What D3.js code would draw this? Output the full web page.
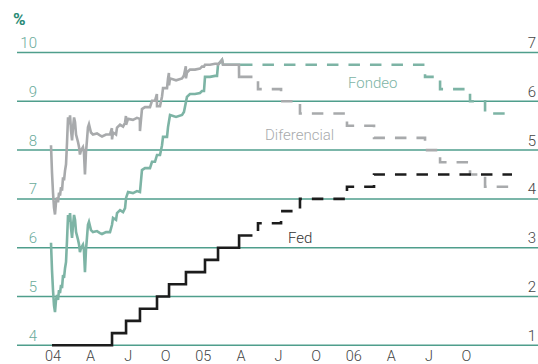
<!DOCTYPE html>
<html><head><meta charset="utf-8">
<script src="https://cdn.jsdelivr.net/npm/d3@7/dist/d3.min.js"></script>
<style>body{margin:0;background:#fff}svg{display:block}</style>
</head><body>
<svg id="chart" width="538" height="364"></svg>
<script>
// time axis: months since January 2004
const xTickMonths = [0,3,6,9,12,15,18,21,24,27,30,33];
const xTickLabels = ["04","A","J","O","05","A","J","O","06","A","J","O"];
const leftTicks = [4,5,6,7,8,9,10];     // Fondeo, %
const rightTicks = [1,2,3,4,5,6,7];     // Fed & Diferencial, %

// Fondeo (left axis), observed
const fondeo = [
 [-0.16,6.10],[-0.08,5.54],[0,5.13],[0.08,4.82],[0.16,4.68],[0.24,4.93],[0.32,5.03],[0.40,4.93],
 [0.48,5.13],[0.56,5.07],[0.64,5.24],[0.72,5.17],[0.80,5.44],[0.88,5.38],[0.96,5.58],[1.04,5.71],
 [1.12,6.16],[1.20,6.67],[1.28,6.53],[1.36,6.71],[1.44,6.40],[1.52,6.20],[1.60,6.47],[1.68,6.67],
 [1.76,6.57],[1.84,6.32],[2.00,6.16],[2.08,6.06],[2.15,5.91],[2.23,5.99],[2.39,6.06],[2.47,5.95],
 [2.55,5.50],[2.63,5.95],[2.71,6.20],[2.79,6.47],[2.87,6.53],[3.03,6.36],[3.19,6.32],[3.51,6.34],
 [3.75,6.30],[3.91,6.28],[4.23,6.32],[4.55,6.32],[4.71,6.47],[4.79,6.61],[5.03,6.57],[5.11,6.71],
 [5.35,6.77],[5.59,6.73],[5.75,6.81],[5.83,7.02],[5.99,7.14],[6.38,7.12],[6.70,7.16],[6.94,7.14],
 [7.10,7.59],[7.34,7.63],[7.74,7.63],[7.90,7.76],[8.14,7.76],[8.30,7.90],[8.54,7.90],[8.70,8.10],
 [8.78,8.27],[9.10,8.27],[9.18,8.47],[9.34,8.72],[9.82,8.68],[10.30,8.72],[10.45,8.78],[10.69,9.09],
 [10.93,9.15],[11.33,9.15],[11.73,9.17],[11.89,9.21],[12.05,9.21],[12.13,9.50],[12.53,9.50],
 [12.93,9.52],[13.09,9.52],[13.17,9.75],[13.49,9.85],[13.57,9.75],[14.13,9.75],[15.00,9.75]
];
// Fondeo, expected (dashed)
const fondeoExp = [[15.0,9.75],[29.69,9.5],[30.89,9.25],[33.28,9.0],[34.48,8.75],[36.63,8.75]];

// Fed funds target (right axis)
const fed = [[-0.08,1.0],[4.71,1.25],[5.83,1.5],[6.94,1.75],[8.30,2.0],[9.26,2.25],[10.61,2.5],
 [12.13,2.75],[13.17,3.0],[14.85,3.25],[15.0,3.25]];
const fedExp = [[15.0,3.25],[16.36,3.5],[18.2,3.75],[19.71,4.0],[23.46,4.25],[25.62,4.5],[36.63,4.5]];

// Diferencial (right axis)
const diferencial = [
 [-0.16,5.10],[-0.08,4.54],[0,4.13],[0.08,3.82],[0.16,3.68],[0.24,3.93],[0.32,4.03],[0.40,3.93],
 [0.48,4.13],[0.56,4.07],[0.64,4.24],[0.72,4.17],[0.80,4.44],[0.88,4.38],[0.96,4.58],[1.04,4.71],
 [1.12,5.16],[1.20,5.67],[1.28,5.53],[1.36,5.71],[1.44,5.40],[1.52,5.20],[1.60,5.47],[1.68,5.67],
 [1.76,5.57],[1.84,5.32],[2.00,5.16],[2.08,5.06],[2.15,4.91],[2.23,4.99],[2.39,5.06],[2.47,4.95],
 [2.55,4.50],[2.63,4.95],[2.71,5.20],[2.79,5.47],[2.87,5.53],[3.03,5.36],[3.19,5.32],[3.51,5.34],
 [3.75,5.30],[3.91,5.28],[4.23,5.32],[4.55,5.32],[4.70,5.45],[4.71,5.22],[4.79,5.36],[5.03,5.32],
 [5.11,5.46],[5.35,5.52],[5.59,5.48],[5.75,5.56],[5.82,5.70],[5.83,5.52],[5.99,5.64],[6.38,5.62],
 [6.70,5.66],[6.93,5.64],[6.94,5.39],[7.10,5.84],[7.34,5.88],[7.74,5.88],[7.90,6.01],[8.14,6.01],
 [8.29,6.15],[8.30,5.90],[8.54,5.90],[8.70,6.10],[8.78,6.27],[9.10,6.27],[9.18,6.47],[9.25,6.58],
 [9.26,6.33],[9.34,6.47],[9.82,6.43],[10.30,6.47],[10.45,6.53],[10.60,6.72],[10.61,6.47],[10.69,6.59],
 [10.93,6.65],[11.33,6.65],[11.73,6.67],[11.89,6.71],[12.05,6.71],[12.13,6.75],[12.53,6.75],
 [12.93,6.77],[13.09,6.77],[13.17,6.75],[13.49,6.85],[13.57,6.75],[14.13,6.75],[14.84,6.75],
 [14.85,6.5],[15.0,6.5]
];
const diferencialExp = [[15.0,6.5],[16.36,6.25],[18.2,6.0],[19.71,5.75],[23.46,5.5],[25.62,5.25],
 [29.69,5.0],[30.89,4.75],[33.28,4.5],[34.48,4.25],[36.63,4.25]];

const seriesLabels = ["Fondeo","Diferencial","Fed"];

const svg = d3.select("#chart");
const x = d3.scaleLinear().domain([0,36]).range([53,504.1]);
const yL = d3.scaleLinear().domain([4,10]).range([345.3,52.5]);
const yR = d3.scaleLinear().domain([1,7]).range([345.3,52.5]);

const font = "Roboto, 'Liberation Sans', Arial, sans-serif";

// gridlines
svg.append("g").selectAll("line").data(leftTicks).join("line")
  .attr("x1",17).attr("x2",538)
  .attr("y1",d=>yL(d)).attr("y2",d=>yL(d))
  .attr("stroke","#4f9e8c").attr("stroke-width",1.5);

// left labels
svg.append("g").selectAll("text").data(leftTicks).join("text")
  .attr("x",37).attr("y",d=>yL(d)-4.5).attr("text-anchor","end")
  .attr("font-family",font).attr("font-weight",300).attr("font-size",15)
  .attr("fill","#6aab9b").text(d=>d);

// right labels
svg.append("g").selectAll("text").data(rightTicks).join("text")
  .attr("x",536).attr("y",d=>yR(d)-4.5).attr("text-anchor","end")
  .attr("font-family",font).attr("font-weight",300).attr("font-size",15)
  .attr("fill","#444").text(d=>d);

// x labels
svg.append("g").selectAll("text").data(xTickMonths).join("text")
  .attr("x",d=>x(d)).attr("y",360.5).attr("text-anchor","middle")
  .attr("font-family",font).attr("font-weight",300).attr("font-size",14.5)
  .attr("fill","#444").text((d,i)=>xTickLabels[i]);

// unit
svg.append("text").attr("x",13).attr("y",25)
  .attr("font-family",font).attr("font-weight",700).attr("font-size",17)
  .attr("fill","#2a8a76").text("%");

const lineLin = (ys)=>d3.line().x(d=>x(d[0])).y(d=>ys(d[1]));
const lineStep = (ys)=>d3.line().curve(d3.curveStepAfter).x(d=>x(d[0])).y(d=>ys(d[1]));

const TEAL="#7db4a5", GRAY="#a8aaac", BLACK="#1c1c1c";
const W=2.6, DASH="11.5,10";

function draw(data, gen, color, dashed){
  svg.append("path").datum(data).attr("d",gen)
    .attr("fill","none").attr("stroke",color).attr("stroke-width",W)
    .attr("stroke-linejoin","miter").attr("stroke-linecap","butt")
    .attr("stroke-dasharray",dashed?DASH:null);
}

draw(fondeo, lineLin(yL), TEAL, false);
draw(diferencial, lineLin(yR), GRAY, false);
draw(fed, lineStep(yR), BLACK, false);
draw(fondeoExp, lineStep(yL), TEAL, true);
draw(diferencialExp, lineStep(yR), GRAY, true);
draw(fedExp, lineStep(yR), BLACK, true);

// series labels
svg.append("text").attr("x",348).attr("y",88).attr("font-family",font).attr("font-weight",300)
  .attr("font-size",15).attr("fill","#7db4a5").text(seriesLabels[0]);
svg.append("text").attr("x",265).attr("y",140).attr("font-family",font).attr("font-weight",300)
  .attr("font-size",15).attr("fill","#a8aaac").text(seriesLabels[1]);
svg.append("text").attr("x",288).attr("y",243).attr("font-family",font).attr("font-weight",300)
  .attr("font-size",15).attr("fill","#333").text(seriesLabels[2]);
</script>
</body></html>
